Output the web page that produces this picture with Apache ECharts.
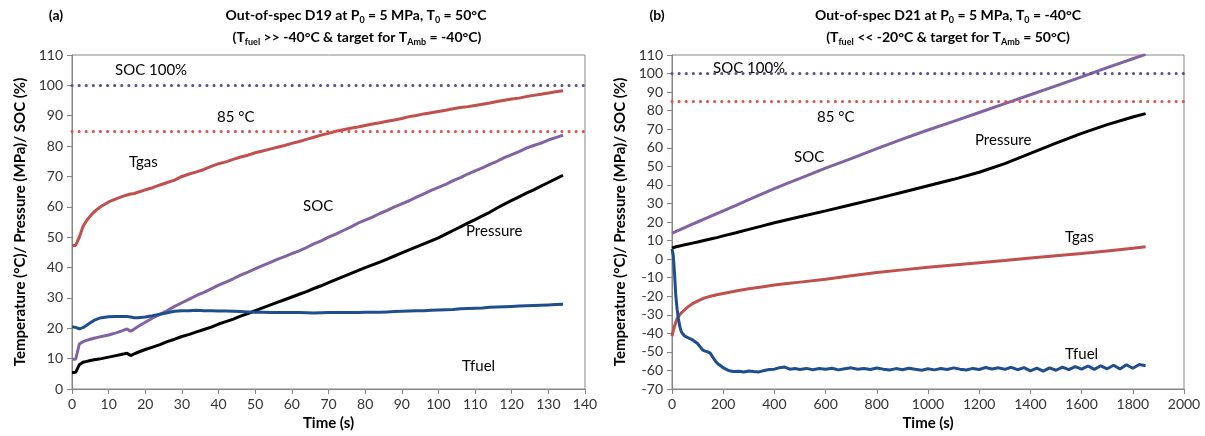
<!DOCTYPE html>
<html>
<head>
<meta charset="utf-8">
<script src="https://cdn.jsdelivr.net/npm/echarts@6/dist/echarts.min.js"></script>
<style>
html,body{margin:0;padding:0;background:#fff;}
#c{width:1205px;height:436px;}
</style>
</head>
<body>
<div id="c"></div>
<script>
// ---------- Panel (a) data ----------
const timeA = [0,1,2,3,4,5,6,7,8,10,12,14,15,16,17,18,
  20,22,24,26,28,30,32,34,36,38,40,42,44,46,48,50,52,54,56,58,
  60,62,64,66,68,70,72,74,76,78,80,82,84,86,88,90,92,94,96,98,
  100,102,104,106,108,110,112,114,116,118,120,122,124,126,128,130,132,134];
const tgasA = [47.3,47.3,50.0,53.5,55.5,57.0,58.3,59.3,60.2,61.6,62.6,63.5,63.9,64.2,64.4,64.8,
  65.6,66.3,67.2,68.0,68.8,70.0,70.8,71.5,72.3,73.3,
  74.2,74.8,75.6,76.4,77.0,77.8,78.4,79.0,79.6,80.2,
  80.9,81.5,82.2,82.9,83.6,84.2,84.9,85.4,85.9,86.3,
  86.8,87.3,87.7,88.2,88.6,89.1,89.7,90.1,90.6,91.0,
  91.4,91.8,92.3,92.7,93.0,93.4,93.8,94.2,94.7,95.1,
  95.5,95.8,96.3,96.7,97.1,97.5,97.9,98.2];
const socA = [9.8,9.8,14.8,15.6,16.0,16.4,16.7,17.0,17.3,17.8,18.5,19.3,19.8,19.0,19.8,20.6,
  22.0,23.4,24.6,25.8,27.2,28.4,29.6,30.8,31.8,33.0,
  34.2,35.2,36.3,37.5,38.5,39.6,40.6,41.6,42.7,43.6,
  44.6,45.5,46.6,47.8,48.8,50.0,51.0,52.2,53.3,54.6,
  55.6,56.6,57.8,58.8,60.0,61.0,62.0,63.2,64.3,65.4,
  66.4,67.4,68.6,69.6,70.8,71.8,72.8,74.0,75.0,76.2,
  77.2,78.2,79.3,80.2,81.0,82.0,82.8,83.6];
const pressureA = [5.4,5.5,8.0,8.8,9.1,9.4,9.6,9.8,10.0,10.5,11.0,11.5,11.8,11.0,11.6,12.1,
  13.0,13.8,14.6,15.6,16.4,17.3,18.0,18.8,19.6,20.4,
  21.4,22.2,23.0,24.0,24.8,25.8,26.7,27.6,28.5,29.4,
  30.3,31.2,32.1,33.1,34.0,35.0,36.0,37.0,38.0,39.0,
  40.0,40.9,41.8,42.8,43.8,44.8,45.8,46.8,47.8,48.8,
  49.8,51.0,52.2,53.4,54.6,55.8,57.0,58.2,59.6,60.9,
  62.1,63.3,64.5,65.6,66.8,68.0,69.2,70.4];
const tfuelA = [20.5,20.3,19.8,20.2,21.0,21.8,22.6,23.1,23.5,23.8,23.9,23.9,23.9,23.7,23.5,23.5,
  23.7,24.1,24.6,25.1,25.6,25.8,25.8,25.9,25.8,25.8,
  25.7,25.7,25.6,25.5,25.4,25.3,25.3,25.2,25.2,25.2,
  25.2,25.2,25.1,25.0,25.1,25.2,25.2,25.2,25.2,25.2,
  25.3,25.3,25.3,25.4,25.5,25.6,25.7,25.8,25.8,25.9,
  26.0,26.1,26.2,26.4,26.5,26.6,26.7,26.9,27.0,27.1,
  27.2,27.3,27.4,27.5,27.6,27.7,27.8,27.9];

// ---------- Panel (b) data ----------
const timeB = [0,5,10,20,30,40,50,60,80,100,125,150,175,200,250,300,350,400,450,500,
  600,700,800,900,1000,1100,1200,1300,1400,1500,1600,1700,1800,1850];
const socB = [14.0,14.3,14.6,15.2,15.8,16.4,17.0,17.6,18.8,20.0,21.5,23.0,24.5,26.0,
  29.0,32.0,35.0,38.0,40.8,43.5,
  49.0,54.2,59.5,64.7,69.6,74.2,79.0,83.8,88.6,93.4,98.2,103.2,108.0,110.3];
const pressureB = [6.0,6.2,6.4,6.8,7.1,7.4,7.7,8.0,8.6,9.2,10.0,10.8,11.6,12.5,
  14.2,16.0,17.8,19.6,21.2,22.8,
  26.0,29.3,32.6,36.0,39.5,43.0,46.8,51.5,57.0,62.5,67.8,72.5,76.6,78.4];
const tgasB = [-41.5,-38.5,-36.0,-32.0,-30.0,-28.5,-27.2,-26.0,-24.0,-22.6,-21.0,-20.0,-19.2,-18.5,
  -17.2,-16.0,-15.0,-14.0,-13.2,-12.4,
  -10.8,-9.0,-7.2,-5.8,-4.4,-3.2,-2.0,-0.8,0.6,1.8,3.0,4.4,5.8,6.6];
const timeFuelB = [0,5,10,15,20,25,30,35,40,
  50,60,70,80,90,100,110,120,130,140,150,160,170,180,190,200,210,220,230,240,
  260,280,300,320,340,360,380,400,420,440,460,480,500,
  525,550,575,600,625,650,675,700,725,750,
  775,800,825,850,875,900,925,950,975,1000,
  1025,1050,1075,1100,1125,1150,1175,1200,1225,1250,
  1275,1300,1325,1350,1375,1400,1425,1450,1475,1500,
  1525,1550,1575,1600,1625,1650,1675,1700,1725,1750,
  1775,1800,1825,1850];
const tfuelB = [5.5,2,-8,-20,-27,-32,-36,-38.5,-40,
  -41.5,-42.2,-42.8,-43.5,-44.5,-45.5,-47.3,-49,-49.6,-50,-50.8,-53,-55,-56.5,-57.5,-58.5,-59.3,-60,-60.3,-60.6,
  -60.4,-60.8,-60.3,-60.6,-60.8,-60,-59.5,-59.3,-58.5,-58.2,-59.3,-59,-59.5,
  -58.9,-59.6,-59.0,-59.4,-58.8,-59.7,-59.1,-58.6,-59.4,-58.9,
  -59.5,-58.7,-59.3,-59.8,-59.0,-59.6,-58.8,-59.4,-59.9,-59.1,
  -59.7,-59.0,-59.5,-58.6,-59.3,-59.8,-58.9,-59.5,-58.4,-59.2,
  -58.6,-59.4,-58.3,-59.6,-58.5,-60.2,-58.8,-60.4,-58.6,-59.9,
  -58.2,-59.6,-57.9,-59.3,-57.6,-59.4,-57.5,-59.1,-57.2,-59.2,
  -56.9,-58.8,-56.8,-57.5];

// ---------- Axis ticks / limits ----------
const xTicksA = {min: 0, max: 140, interval: 10};
const xTicksB = {min: 0, max: 2000, interval: 200};
const yTicksA = {min: 0, max: 110, interval: 10};
const yTicksB = {min: -70, max: 110, interval: 10};
const socLimit = 100;
const tempLimit = 85;

// ---------- styling ----------
const FONT = 'Lato, "Open Sans", sans-serif';
const C_TGAS = '#C0504D', C_SOC = '#8064A2', C_P = '#000000', C_FUEL = '#1F4E8C';
const C_AX = '#868686';
const zip = (t, v) => t.map((x, i) => [x, v[i]]);

function lineSeries(name, xi, t, v, color, w) {
  return {name, type: 'line', xAxisIndex: xi, yAxisIndex: xi, data: zip(t, v),
    showSymbol: false, symbol: 'none', smooth: false,
    lineStyle: {color, width: w || 3}, itemStyle: {color}, z: 3};
}
function limitSeries(xi) {
  return {type: 'line', xAxisIndex: xi, yAxisIndex: xi, data: [], silent: true,
    markLine: {silent: true, symbol: 'none', animation: false, label: {show: false},
      data: [
        {yAxis: socLimit, lineStyle: {color: '#5E4A98', type: [0.1, 7], width: 3, cap: 'round'}},
        {yAxis: tempLimit, lineStyle: {color: '#E0504A', type: [0.1, 7], width: 3, cap: 'round'}}
      ]}};
}
function xAxis(gi, ticks) {
  return {type: 'value', gridIndex: gi, min: ticks.min, max: ticks.max, interval: ticks.interval,
    name: 'Time (s)', nameLocation: 'middle', nameGap: 27,
    nameTextStyle: {fontFamily: FONT, fontWeight: 'bold', fontSize: 15, color: '#000'},
    axisLine: {onZero: false, lineStyle: {color: C_AX}},
    axisTick: {show: true, length: 5, lineStyle: {color: C_AX}},
    axisLabel: {fontFamily: FONT, fontSize: 14, color: '#333', margin: 8, formatter: v => String(v)},
    splitLine: {show: false}};
}
function yAxis(gi, ticks) {
  return {type: 'value', gridIndex: gi, min: ticks.min, max: ticks.max, interval: ticks.interval,
    name: 'Temperature (°C)/ Pressure (MPa)/ SOC (%)', nameLocation: 'middle', nameGap: 44, nameRotate: 90,
    nameTextStyle: {fontFamily: FONT, fontWeight: 'bold', fontSize: 15, color: '#000'},
    axisLine: {show: true, onZero: false, lineStyle: {color: C_AX}},
    axisTick: {show: true, length: 5, lineStyle: {color: C_AX}},
    axisLabel: {fontFamily: FONT, fontSize: 14, color: '#333', margin: 9, formatter: v => String(v)},
    splitLine: {show: false}};
}
const richT = {
  b: {fontFamily: FONT, fontWeight: 'bold', fontSize: 14, color: '#000', lineHeight: 20},
  s: {fontFamily: FONT, fontWeight: 'bold', fontSize: 9, color: '#000', lineHeight: 12, verticalAlign: 'bottom'}
};
function tText(x, y, text) {
  return {type: 'text', x, y, silent: true,
    style: {text, rich: richT, align: 'center', verticalAlign: 'middle'}};
}
function note(x, y, text) {
  return {type: 'text', x, y, silent: true,
    style: {text, fontFamily: FONT, fontSize: 15, fill: '#000', align: 'left', verticalAlign: 'middle'}};
}

const chart = echarts.init(document.getElementById('c'), null, {renderer: 'canvas'});
chart.setOption({
  animation: false,
  backgroundColor: '#fff',
  grid: [
    {left: 72, top: 55, width: 513, height: 336, show: true, borderColor: C_AX, borderWidth: 1},
    {left: 672, top: 55, width: 512, height: 336, show: true, borderColor: C_AX, borderWidth: 1}
  ],
  xAxis: [xAxis(0, xTicksA), xAxis(1, xTicksB)],
  yAxis: [yAxis(0, yTicksA), yAxis(1, yTicksB)],
  series: [
    limitSeries(0), limitSeries(1),
    lineSeries('Tgas', 0, timeA, tgasA, C_TGAS),
    lineSeries('SOC', 0, timeA, socA, C_SOC),
    lineSeries('Pressure', 0, timeA, pressureA, C_P),
    lineSeries('Tfuel', 0, timeA, tfuelA, C_FUEL),
    lineSeries('SOC', 1, timeB, socB, C_SOC),
    lineSeries('Pressure', 1, timeB, pressureB, C_P),
    lineSeries('Tgas', 1, timeB, tgasB, C_TGAS),
    lineSeries('Tfuel', 1, timeFuelB, tfuelB, C_FUEL)
  ],
  graphic: [
    {type: 'text', x: 56, y: 15, style: {text: '(a)', fontFamily: FONT, fontWeight: 'bold', fontSize: 14, fill: '#000', align: 'center', verticalAlign: 'middle'}},
    {type: 'text', x: 657, y: 15, style: {text: '(b)', fontFamily: FONT, fontWeight: 'bold', fontSize: 14, fill: '#000', align: 'center', verticalAlign: 'middle'}},
    tText(356, 15, '{b|Out-of-spec D19 at P}{s|0}{b| = 5 MPa, T}{s|0}{b| = 50°C}'),
    tText(357, 37, '{b|(T}{s|fuel}{b| >> -40°C & target for T}{s|Amb}{b| = -40°C)}'),
    tText(948, 15, '{b|Out-of-spec D21 at P}{s|0}{b| = 5 MPa, T}{s|0}{b| = -40°C}'),
    tText(948, 37, '{b|(T}{s|fuel}{b| << -20°C & target for T}{s|Amb}{b| = 50°C)}'),
    note(115, 70, 'SOC 100%'),
    note(217, 117, '85 °C'),
    note(129, 162, 'Tgas'),
    note(303, 206, 'SOC'),
    note(466, 231, 'Pressure'),
    note(462, 366, 'Tfuel'),
    note(713, 68, 'SOC 100%'),
    note(817, 117, '85 °C'),
    note(794, 157, 'SOC'),
    note(975, 140, 'Pressure'),
    note(1065, 237, 'Tgas'),
    note(1065, 354, 'Tfuel')
  ]
});
</script>
</body>
</html>
